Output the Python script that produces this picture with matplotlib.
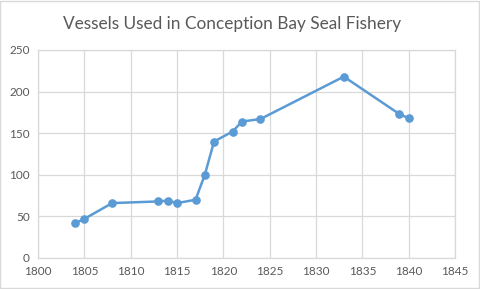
import matplotlib
matplotlib.use("Agg")
import matplotlib.pyplot as plt

years = [1804, 1805, 1808, 1813, 1814, 1815, 1817, 1818, 1819, 1821, 1822, 1824, 1833, 1839, 1840]
vessels = [42, 47, 66, 68, 69, 66, 70, 100, 140, 152, 164, 167, 218, 173, 168]

plt.rcParams['font.family'] = ['Lato', 'DejaVu Sans']

fig = plt.figure(figsize=(4.8, 2.89), dpi=100)
ax = fig.add_axes([38/480, 1 - 258/289, (455 - 38)/480, (258 - 50)/289])

ax.plot(years, vessels, color="#5b9bd5", linewidth=1.8, marker="o", markersize=5.2, zorder=3)

ax.set_xlim(1800, 1845)
ax.set_ylim(0, 250)
ax.set_xticks(range(1800, 1846, 5))
ax.set_yticks(range(0, 251, 50))
ax.grid(True, color="#d9d9d9", linewidth=0.9)
ax.set_axisbelow(True)
for s in ax.spines.values():
    s.set_color("#d9d9d9")
    s.set_linewidth(0.9)
ax.tick_params(length=0, labelsize=8.5, labelcolor="#595959", pad=6)

fig.text(0.484, 0.918, "Vessels Used in Conception Bay Seal Fishery", ha="center", va="center",
         fontsize=12.4, color="#595959")

fig.patches.append(plt.Rectangle((0.001, 0.002), 0.997, 0.995, transform=fig.transFigure,
                                 fill=False, edgecolor="#d9d9d9", linewidth=1))

fig.savefig("out.png", dpi=100)
